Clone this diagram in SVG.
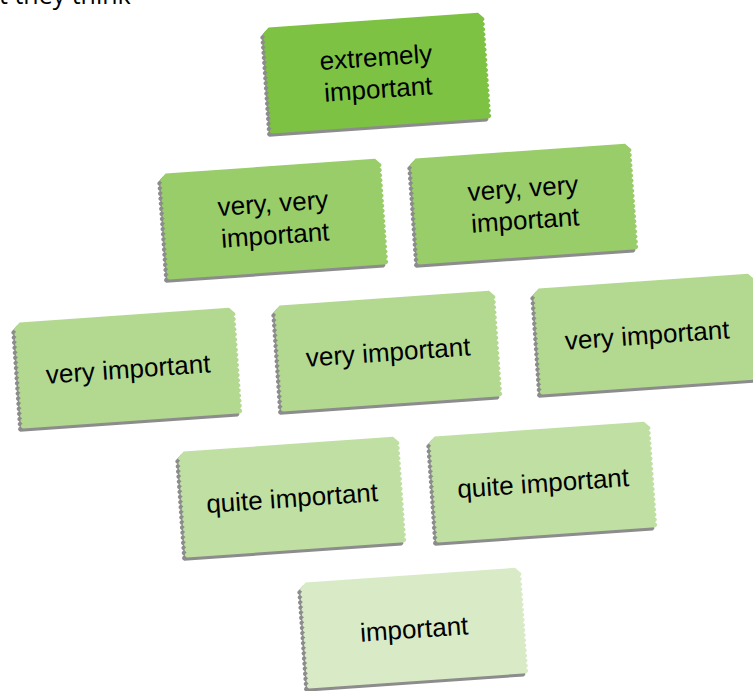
<svg xmlns="http://www.w3.org/2000/svg" xmlns:xlink="http://www.w3.org/1999/xlink" width="753" height="691" viewBox="0 0 753 691">
<style>
.sh{fill:#8c8c8c}
.t{font-family:"Liberation Sans",Arial,sans-serif;font-size:26px;fill:#000;text-anchor:middle}
.c1{fill:#7dc243}.c2{fill:#98cd69}.c3{fill:#b3d991}.c4{fill:#c0e0a3}.c5{fill:#d8ebc6}
</style>
<defs>
<path id="card" d="M-105,-53 L105,-53 L109,-49 q4 2.55 0 5.1 q4 2.55 0 5.1 q4 2.55 0 5.1 q4 2.55 0 5.1 q4 2.55 0 5.1 q4 2.55 0 5.1 q4 2.55 0 5.1 q4 2.55 0 5.1 q4 2.55 0 5.1 q4 2.55 0 5.1 q4 2.55 0 5.1 q4 2.55 0 5.1 q4 2.55 0 5.1 q4 2.55 0 5.1 q4 2.55 0 5.1 q4 2.55 0 5.1 q4 2.55 0 5.1 q4 2.55 0 5.1 q4 2.55 0 5.1 q4 2.55 0 5.1 L-109,53 q-4 -2.55 0 -5.1 q-4 -2.55 0 -5.1 q-4 -2.55 0 -5.1 q-4 -2.55 0 -5.1 q-4 -2.55 0 -5.1 q-4 -2.55 0 -5.1 q-4 -2.55 0 -5.1 q-4 -2.55 0 -5.1 q-4 -2.55 0 -5.1 q-4 -2.55 0 -5.1 q-4 -2.55 0 -5.1 q-4 -2.55 0 -5.1 q-4 -2.55 0 -5.1 q-4 -2.55 0 -5.1 q-4 -2.55 0 -5.1 q-4 -2.55 0 -5.1 q-4 -2.55 0 -5.1 q-4 -2.55 0 -5.1 q-4 -2.55 0 -5.1 q-4 -2.55 0 -5.1 Z"/>
</defs>
<rect width="753" height="691" fill="#fff"/>
<text x="-1" y="4" style="font-family:'Open Sans',sans-serif;font-size:25px;fill:#000">t they think</text>
<g id="n1" transform="translate(377,73) rotate(-4)"><use xlink:href="#card" class="sh" x="-3" y="3"/><use xlink:href="#card" class="c1"/><text class="t" y="-7">extremely</text><text class="t" y="25">important</text></g>
<g id="n2" transform="translate(274,219) rotate(-4)"><use xlink:href="#card" class="sh" x="-3" y="3"/><use xlink:href="#card" class="c2"/><text class="t" y="-7">very, very</text><text class="t" y="25">important</text></g>
<g id="n3" transform="translate(524,204) rotate(-4)"><use xlink:href="#card" class="sh" x="-3" y="3"/><use xlink:href="#card" class="c2"/><text class="t" y="-7">very, very</text><text class="t" y="25">important</text></g>
<g id="n4" transform="translate(128,368) rotate(-4)"><use xlink:href="#card" class="sh" x="-3" y="3"/><use xlink:href="#card" class="c3"/><text class="t" y="10">very important</text></g>
<g id="n5" transform="translate(388,351) rotate(-4)"><use xlink:href="#card" class="sh" x="-3" y="3"/><use xlink:href="#card" class="c3"/><text class="t" y="10">very important</text></g>
<g id="n6" transform="translate(647,334) rotate(-4)"><use xlink:href="#card" class="sh" x="-3" y="3"/><use xlink:href="#card" class="c3"/><text class="t" y="10">very important</text></g>
<g id="n7" transform="translate(292,497) rotate(-4)"><use xlink:href="#card" class="sh" x="-3" y="3"/><use xlink:href="#card" class="c4"/><text class="t" y="10">quite important</text></g>
<g id="n8" transform="translate(543,482) rotate(-4)"><use xlink:href="#card" class="sh" x="-3" y="3"/><use xlink:href="#card" class="c4"/><text class="t" y="10">quite important</text></g>
<g id="n9" transform="translate(414,628) rotate(-4)"><use xlink:href="#card" class="sh" x="-3" y="3"/><use xlink:href="#card" class="c5"/><text class="t" y="10">important</text></g>
<g id="connectors"/>
</svg>
